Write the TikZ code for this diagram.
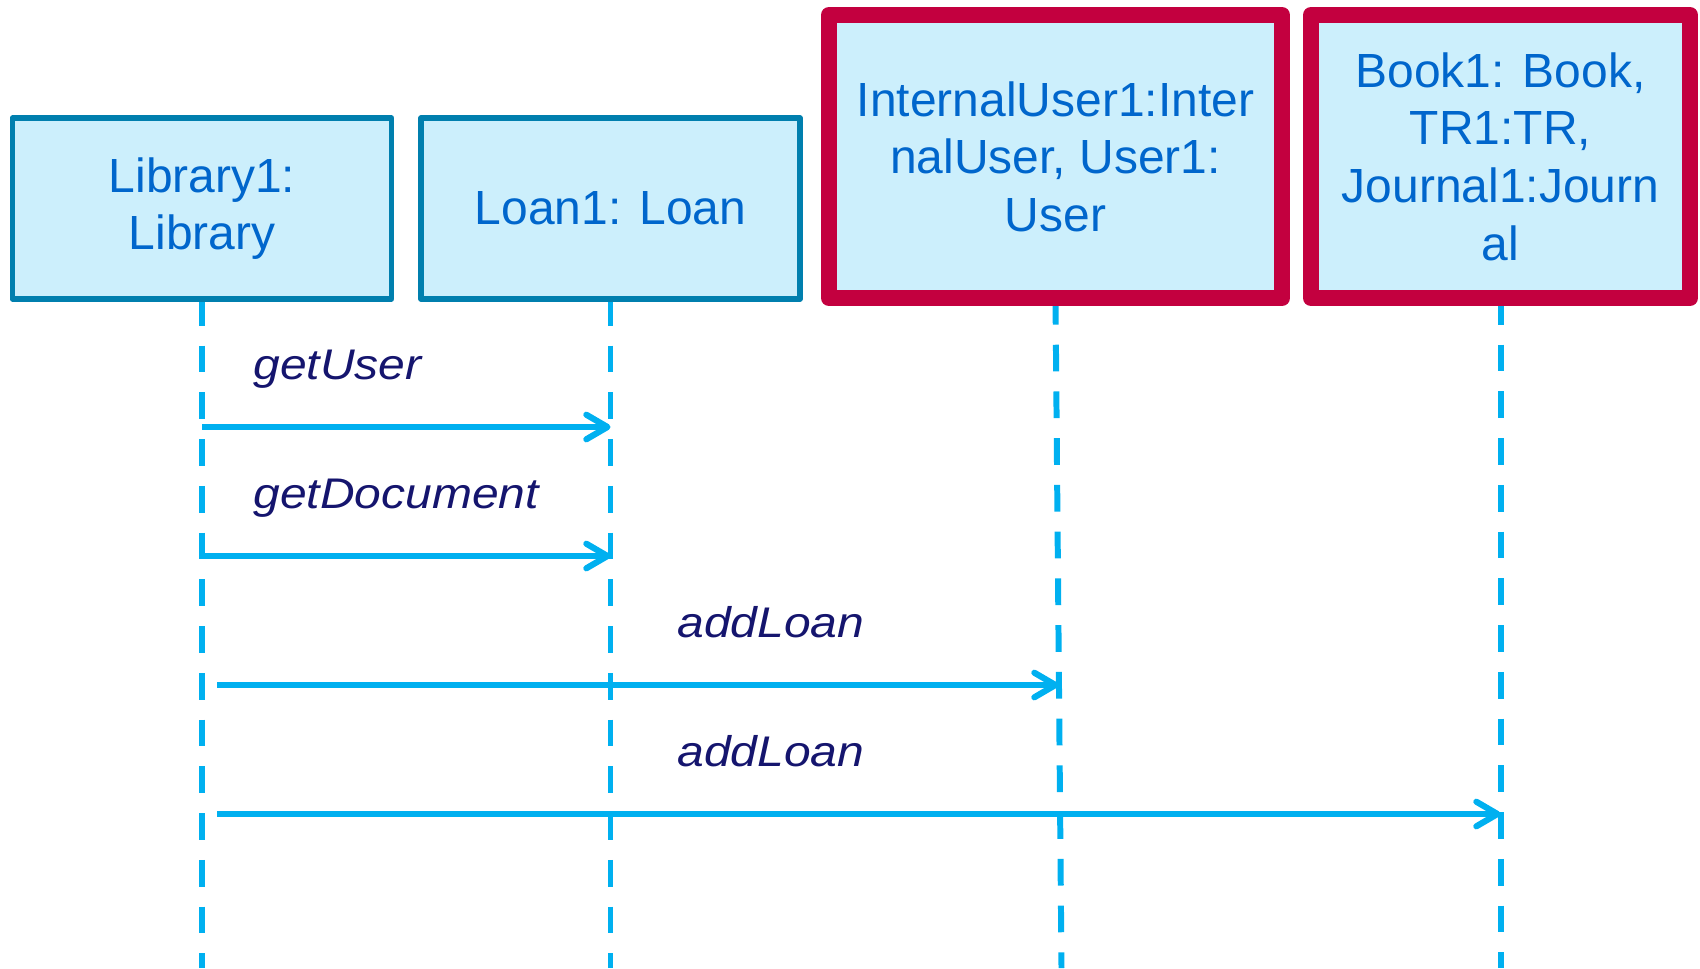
\documentclass[tikz,border=0pt]{standalone}
\usepackage{fontspec}
\setmainfont{Liberation Sans}
\usetikzlibrary{arrows.meta}

\definecolor{boxfill}{HTML}{CCEFFC}
\definecolor{boxtext}{HTML}{0066CC}
\definecolor{boxedge}{HTML}{007FAE}
\definecolor{activeedge}{HTML}{C3003F}
\definecolor{lifeline}{HTML}{00B0F0}
\definecolor{msgtext}{HTML}{15156E}

\pgfdeclarelayer{background}
\pgfsetlayers{background,main}

% one drawing unit = 0.02cm
\def\pu{0.02cm}

\begin{document}
\begin{tikzpicture}[x=0.02cm, y=-0.02cm,
  obj/.style={draw=boxedge, fill=boxfill, line width=5.5*\pu, text=boxtext,
    font=\fontsize{27.3}{32.8}\selectfont, align=center, inner sep=0pt,
    outer sep=0pt, minimum width=379*\pu, minimum height=181*\pu, line join=round},
  activeobj/.style={obj, draw=activeedge, line width=16*\pu, minimum height=283*\pu},
  life/.style={draw=lifeline, line width=3.4pt, dash pattern=on 15.2pt off 11.4pt},
  msgarrow/.style={draw=lifeline, line width=3.5pt,
    -{Straight Barb[length=12pt, width=14pt, round]}},
  msglabel/.style={text=msgtext, font=\fontsize{24.4}{28}\selectfont\itshape,
    anchor=base west, inner sep=0pt}
]
\useasboundingbox (0,0) rectangle (1700,968);

% objects
\node[obj] (lib) at (202,208.5) {Library1:\\Library};
\node[obj] (loan) at (610.5,208.5) {Loan1: Loan};
\node[activeobj, minimum width=453*\pu] (iu) at (1055.5,156.5)
  {InternalUser1:Inter\\nalUser, User1:\\User};
\node[activeobj] (doc) at (1500.5,156.5)
  {Book1: Book,\\TR1:TR,\\Journal1:Journ\\al};

% lifelines
\coordinate (bottom) at (0,968);
\begin{pgfonlayer}{background}
  \draw[life] (lib.south) -- (lib.south |- bottom);
  \draw[life] (loan.south) -- (loan.south |- bottom);
  \draw[life] (iu.south) -- ([xshift=6*\pu]iu.south |- bottom);
  \draw[life] (doc.south) -- (doc.south |- bottom);
\end{pgfonlayer}

% message rows
\coordinate (m1) at (0,427);
\coordinate (m2) at (0,556);
\coordinate (m3) at (0,685);
\coordinate (m4) at (0,814);

\draw[msgarrow] (lib |- m1) -- (loan |- m1);
\draw[msgarrow] (lib |- m2) -- (loan |- m2);
\draw[msgarrow] ([xshift=15*\pu]lib |- m3) -- ([xshift=3*\pu]iu |- m3);
\draw[msgarrow] ([xshift=15*\pu]lib |- m4) -- (doc |- m4);

% message labels
\node[msglabel] (l1) at (253,379) {\scalebox{1.12}[1]{getUser}};
\node[msglabel] (l2) at (253,508) {\scalebox{1.12}[1]{getDocument}};
\node[msglabel] (l3) at (677,637) {\scalebox{1.12}[1]{addLoan}};
\node[msglabel] (l4) at (677,766) {\scalebox{1.12}[1]{addLoan}};
\end{tikzpicture}
\end{document}
